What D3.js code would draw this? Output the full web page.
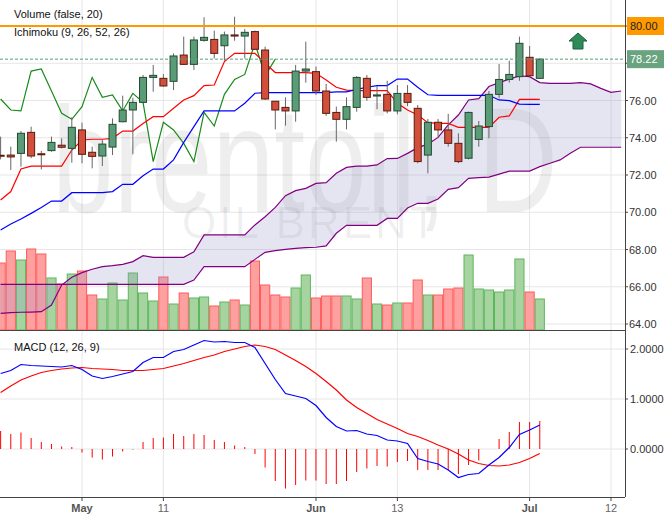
<!DOCTYPE html>
<html><head><meta charset="utf-8">
<script src="https://cdn.jsdelivr.net/npm/d3@7"></script>
<style>body{margin:0;background:#fff}svg{display:block;font-family:"Liberation Sans",Arial,sans-serif}</style>
</head><body><svg id="c" width="664" height="519"></svg>
<script>
// trading-day index: 0 = May 1, first candle = -8
const firstDay = -8;
const tickDays = [0, 8, 23, 31, 44, 52];
const tickLabels = ["May", "11", "Jun", "13", "Jul", "12"];
const tickBold = [true, false, true, false, true, false];
const priceTicks = [64, 66, 68, 70, 72, 74, 76, 78, 80];
const priceLabelTicks = [64, 66, 68, 70, 72, 74, 76];
const macdTicks = [0, 1, 2];

const open  = [73.06,73.07,73.16,74.29,73.14,73.31,73.60,73.43,74.42,73.22,73.02,73.50,74.86,75.49,75.90,77.24,77.19,77.03,78.44,77.94,79.23,79.28,78.94,79.52,79.46,79.70,78.71,75.96,75.63,75.44,77.58,77.55,76.51,75.36,74.99,75.63,77.19,76.24,76.33,75.44,76.38,75.58,73.07,74.83,74.42,73.70,72.90,73.91,74.60,76.33,77.13,77.28,78.32,77.19];
const close = [73.02,72.97,74.24,73.02,73.11,73.75,73.49,74.56,73.11,73.00,73.66,74.72,75.49,75.90,77.24,77.35,76.78,78.39,77.94,79.25,79.39,78.53,79.52,79.46,79.66,78.75,76.08,75.49,75.44,77.58,77.69,76.51,75.31,74.99,75.67,77.24,76.17,76.30,75.44,76.38,75.90,72.72,74.83,74.42,73.70,72.72,75.36,74.63,76.33,77.13,77.40,79.07,77.33,78.22];
const high  = [74.06,73.52,74.36,74.59,73.29,74.06,73.97,75.10,74.81,73.52,73.88,75.04,76.26,76.15,77.37,77.91,77.42,78.53,79.43,79.43,80.47,79.75,79.70,80.50,79.84,79.75,78.89,75.96,76.17,77.91,79.16,77.82,76.89,75.67,76.17,77.31,77.37,76.78,77.06,76.83,76.83,75.76,75.01,75.01,75.28,74.24,75.40,74.90,76.51,77.96,78.14,79.43,78.93,78.26];
const low   = [72.84,72.27,72.45,72.90,72.30,73.25,73.43,72.66,72.63,72.36,72.48,73.07,74.83,73.11,75.85,76.47,76.74,76.56,77.91,77.64,79.16,78.26,78.14,79.21,78.26,78.71,76.03,74.45,74.65,74.86,76.96,76.30,75.17,73.79,74.45,75.40,75.99,75.53,75.31,75.26,75.70,72.63,72.09,74.06,73.52,72.63,72.84,73.52,73.97,76.12,76.96,77.06,77.24,77.15];
const volume = [67,79,70,81,76,52,46,56,59,35,31,47,30,57,37,29,53,26,37,32,33,24,28,30,25,69,45,35,33,42,55,32,34,34,34,31,52,26,25,27,27,50,35,35,41,42,75,41,40,38,40,71,38,31];
const tenkan = [70.66,71.11,72.32,72.48,72.48,72.48,72.48,73.34,73.88,73.92,73.92,73.97,74.36,74.36,74.77,75.13,75.13,75.58,76.03,76.26,76.80,76.83,78.09,78.53,78.53,78.53,78.00,77.50,77.50,77.50,77.50,77.46,77.10,76.71,76.56,76.53,76.53,76.53,76.53,75.85,75.49,75.22,74.81,74.77,74.77,74.56,74.56,74.56,74.56,75.10,75.17,76.06,76.06,76.06];
const kijun = [69.05,69.37,69.64,69.94,70.26,70.60,70.60,71.05,71.05,71.05,71.05,71.11,71.50,71.50,71.96,72.32,72.32,72.81,73.75,74.60,75.44,75.44,75.44,75.44,75.85,76.39,76.42,76.42,76.42,76.42,76.42,76.42,76.42,76.46,76.46,76.60,76.71,76.80,76.80,77.15,77.15,76.71,76.31,76.28,76.28,76.28,76.28,76.28,76.28,76.03,75.99,75.81,75.79,75.79];
// senkou spans, plotted from day -8 to day 53
const spanA = [64.57,64.61,64.63,64.64,64.66,65.02,66.09,66.51,66.76,66.94,67.08,67.13,67.20,67.35,67.67,67.58,67.58,67.58,67.58,67.88,68.78,68.78,68.78,68.78,68.78,69.32,69.76,70.26,70.89,71.16,71.28,71.55,71.59,72.09,72.41,72.48,72.48,72.54,72.88,72.89,73.16,73.47,73.66,74.02,74.69,75.22,76.03,76.10,76.75,76.96,77.15,77.32,77.28,76.96,76.92,76.92,76.92,76.96,76.89,76.65,76.44,76.51];
const spanB = [66.13,66.13,66.13,66.13,66.13,66.13,66.13,66.13,66.13,66.13,66.13,66.13,66.13,66.13,66.13,66.13,66.13,66.13,66.13,66.36,67.08,67.08,67.08,67.08,67.08,67.47,67.85,67.94,68.01,68.06,68.10,68.12,68.19,68.87,69.30,69.30,69.30,69.30,69.67,69.67,70.23,70.48,70.48,70.71,71.23,71.32,71.82,71.86,71.89,72.05,72.21,72.21,72.21,72.45,72.63,72.81,73.17,73.49,73.49,73.49,73.49,73.49];
const macd = [1.51,1.57,1.69,1.67,1.66,1.65,1.64,1.67,1.59,1.46,1.41,1.45,1.50,1.55,1.73,1.83,1.83,1.95,1.99,2.08,2.17,2.14,2.15,2.13,2.13,2.03,1.71,1.39,1.11,1.06,1.01,0.87,0.63,0.45,0.36,0.37,0.30,0.27,0.18,0.16,0.11,-0.19,-0.25,-0.30,-0.42,-0.57,-0.51,-0.49,-0.32,-0.17,0.03,0.29,0.38,0.48];
const signal = [1.13,1.26,1.38,1.46,1.53,1.57,1.60,1.62,1.63,1.61,1.60,1.59,1.57,1.57,1.57,1.59,1.61,1.66,1.71,1.77,1.83,1.88,1.95,2.00,2.05,2.08,2.05,1.99,1.88,1.77,1.65,1.51,1.35,1.18,0.98,0.83,0.71,0.59,0.50,0.41,0.31,0.25,0.17,0.08,0.00,-0.10,-0.22,-0.29,-0.33,-0.34,-0.32,-0.27,-0.19,-0.09];
const hist = [0.36,0.30,0.33,0.22,0.14,0.10,0.05,0.04,-0.07,-0.17,-0.21,-0.15,-0.05,-0.01,0.14,0.22,0.23,0.30,0.26,0.30,0.28,0.18,0.14,0.07,0.04,-0.10,-0.37,-0.64,-0.79,-0.72,-0.63,-0.63,-0.70,-0.70,-0.64,-0.46,-0.39,-0.34,-0.35,-0.26,-0.24,-0.42,-0.42,-0.42,-0.42,-0.50,-0.32,-0.23,0.00,0.20,0.34,0.54,0.54,0.56];

const svg = d3.select("#c");
const W = 625;
const x = d3.scaleLinear().domain([0, 52]).range([82, 611]);
const y = d3.scaleLinear().domain([64, 80]).range([324, 26]);
const yv = d3.scaleLinear().domain([0, 100]).range([330, 230]);
const ym = d3.scaleLinear().domain([0, 2]).range([449, 349]);
const dayOf = i => i + firstDay;

const defs = svg.append("defs");
defs.append("clipPath").attr("id","cm").append("rect").attr("x",0).attr("y",0).attr("width",W).attr("height",330);
defs.append("clipPath").attr("id","cd").append("rect").attr("x",0).attr("y",331).attr("width",W).attr("height",166);

// grids
const g = svg.append("g");
g.selectAll(".hg").data(priceTicks).join("line").attr("x1",0).attr("x2",W).attr("y1",d=>y(d)).attr("y2",d=>y(d)).attr("stroke","#e6e6e6");
g.selectAll(".mg").data(macdTicks).join("line").attr("x1",0).attr("x2",W).attr("y1",d=>ym(d)).attr("y2",d=>ym(d)).attr("stroke","#e6e6e6");
g.selectAll(".vg").data(tickDays).join("line").attr("x1",d=>x(d)).attr("x2",d=>x(d)).attr("y1",0).attr("y2",497).attr("stroke","#e6e6e6");

// watermark (scaled to fit the plot area)
svg.append("text").attr("transform","translate(52,212) scale(0.74,1)").attr("font-size",150)
  .attr("fill","#000").attr("fill-opacity",0.065).text("brentoil, D");
svg.append("text").attr("x",182).attr("y",238).attr("font-size",44).attr("letter-spacing",3)
  .attr("fill","#000").attr("fill-opacity",0.065).text("OIL BRENT");

const main = svg.append("g").attr("clip-path","url(#cm)");

// volume
const bw = 10.17;
main.selectAll(".vol").data(volume).join("rect")
  .attr("x",(d,i)=>x(dayOf(i))-bw/2+0.5).attr("width",bw-1)
  .attr("y",d=>yv(d)).attr("height",d=>330-yv(d))
  .attr("fill",(d,i)=>close[i]>=open[i]?"#a6d3a0":"#ffa0a0")
  .attr("stroke",(d,i)=>close[i]>=open[i]?"#5cb85c":"#ff5a5a").attr("stroke-width",1);

// cloud
const spanIdx = spanA.map((_, i) => i);
const area = d3.area().x(i=>x(dayOf(i))).y0(i=>y(spanA[i])).y1(i=>y(spanB[i]));
main.append("path").datum(spanIdx).attr("d",area).attr("fill","#9999cc").attr("fill-opacity",0.25);
const lineOf = (arr, ys=y) => d3.line().x(i=>x(dayOf(i))).y(i=>ys(arr[i]));
main.append("path").datum(spanIdx).attr("d",lineOf(spanA)).attr("fill","none").attr("stroke","#800080").attr("stroke-width",1.2);
main.append("path").datum(spanIdx).attr("d",lineOf(spanB)).attr("fill","none").attr("stroke","#800080").attr("stroke-width",1.2);

// chikou (close shifted back 26)
const chIdx = d3.range(0, close.length - 26);
main.append("path").datum(chIdx).attr("d",d3.line().x(i=>x(dayOf(i))).y(i=>y(close[i+26]))).attr("fill","none").attr("stroke","#1a8a1a").attr("stroke-width",1.2);
const cIdx = close.map((_, i) => i);
main.append("path").datum(cIdx).attr("d",lineOf(tenkan)).attr("fill","none").attr("stroke","#ff0000").attr("stroke-width",1.2);
main.append("path").datum(cIdx).attr("d",lineOf(kijun)).attr("fill","none").attr("stroke","#0000ff").attr("stroke-width",1.2);

// candles
const cg = main.selectAll(".cd").data(cIdx).join("g");
cg.append("line").attr("x1",i=>x(dayOf(i))).attr("x2",i=>x(dayOf(i))).attr("y1",i=>y(high[i])).attr("y2",i=>y(low[i])).attr("stroke","#666");
cg.append("rect").attr("x",i=>x(dayOf(i))-3.5).attr("width",7)
  .attr("y",i=>y(Math.max(open[i],close[i]))).attr("height",i=>Math.max(1,Math.abs(y(open[i])-y(close[i]))))
  .attr("fill",i=>close[i]>=open[i]?"#5b9c78":"#d24f3c").attr("stroke",i=>close[i]>=open[i]?"#224a30":"#5a1a10").attr("stroke-width",1);

// last price dashed line, 80 line
main.append("line").attr("x1",0).attr("x2",W).attr("y1",y(close[close.length-1])).attr("y2",y(close[close.length-1])).attr("stroke","#5b9c78").attr("stroke-dasharray","3,2");
svg.append("line").attr("x1",0).attr("x2",W).attr("y1",y(80)).attr("y2",y(80)).attr("stroke","#ff9900").attr("stroke-width",2);

// arrow
svg.append("path").attr("d","M578,33 L587,41 L583,41 L583,49 L573,49 L573,41 L569,41 Z").attr("fill","#2e8b57").attr("stroke","#1d5e3a");

// MACD
const md = svg.append("g").attr("clip-path","url(#cd)");
md.selectAll(".h").data(hist).join("line").attr("x1",(d,i)=>x(dayOf(i))).attr("x2",(d,i)=>x(dayOf(i)))
  .attr("y1",ym(0)).attr("y2",d=>ym(d)).attr("stroke","#ff0000").attr("stroke-width",1);
md.append("path").datum(cIdx).attr("d",lineOf(signal, ym)).attr("fill","none").attr("stroke","#ff0000").attr("stroke-width",1.2);
md.append("path").datum(cIdx).attr("d",lineOf(macd, ym)).attr("fill","none").attr("stroke","#0000ff").attr("stroke-width",1.2);

// frames
svg.append("line").attr("x1",0).attr("x2",W).attr("y1",330.5).attr("y2",330.5).attr("stroke","#444");
svg.append("line").attr("x1",W+0.5).attr("x2",W+0.5).attr("y1",0).attr("y2",497).attr("stroke","#444");
svg.append("line").attr("x1",0).attr("x2",W).attr("y1",497.5).attr("y2",497.5).attr("stroke","#444");

// axes
svg.selectAll(".pt").data(priceLabelTicks).join("text").attr("x",629).attr("y",d=>y(d)+4).attr("font-size",11).attr("fill","#333").text(d=>d.toFixed(2));
svg.selectAll(".ptk").data(priceTicks).join("line").attr("x1",W).attr("x2",W+3).attr("y1",d=>y(d)).attr("y2",d=>y(d)).attr("stroke","#444");
svg.selectAll(".mt").data(macdTicks).join("text").attr("x",630).attr("y",d=>ym(d)+4).attr("font-size",11).attr("fill","#333").text(d=>d.toFixed(4));
svg.selectAll(".mtk").data(macdTicks).join("line").attr("x1",W).attr("x2",W+3).attr("y1",d=>ym(d)).attr("y2",d=>ym(d)).attr("stroke","#444");
svg.selectAll(".xt").data(tickDays).join("text").attr("x",d=>x(d)).attr("y",512).attr("text-anchor","middle").attr("font-size",11)
  .attr("font-weight",(d,i)=>tickBold[i]?"bold":"normal").attr("fill",(d,i)=>tickBold[i]?"#555":"#666").text((d,i)=>tickLabels[i]);
svg.selectAll(".xtk").data(tickDays).join("line").attr("x1",d=>x(d)).attr("x2",d=>x(d)).attr("y1",497).attr("y2",501).attr("stroke","#444");

// price labels
svg.append("rect").attr("x",627).attr("y",y(80)-9).attr("width",37).attr("height",18).attr("fill","#ff9900");
svg.append("text").attr("x",630).attr("y",y(80)+4).attr("font-size",11).attr("fill","#222").text("80.00");
svg.append("rect").attr("x",627).attr("y",y(78.22)-9).attr("width",37).attr("height",18).attr("fill","#6aa37f");
svg.append("text").attr("x",630).attr("y",y(78.22)+4).attr("font-size",11).attr("fill","#fff").text("78.22");

// titles
svg.append("text").attr("x",14).attr("y",18).attr("font-size",11).attr("fill","#111").text("Volume (false, 20)");
svg.append("text").attr("x",14).attr("y",36).attr("font-size",11).attr("fill","#111").text("Ichimoku (9, 26, 52, 26)");
svg.append("text").attr("x",14).attr("y",351).attr("font-size",11).attr("fill","#111").text("MACD (12, 26, 9)");
</script></body></html>
